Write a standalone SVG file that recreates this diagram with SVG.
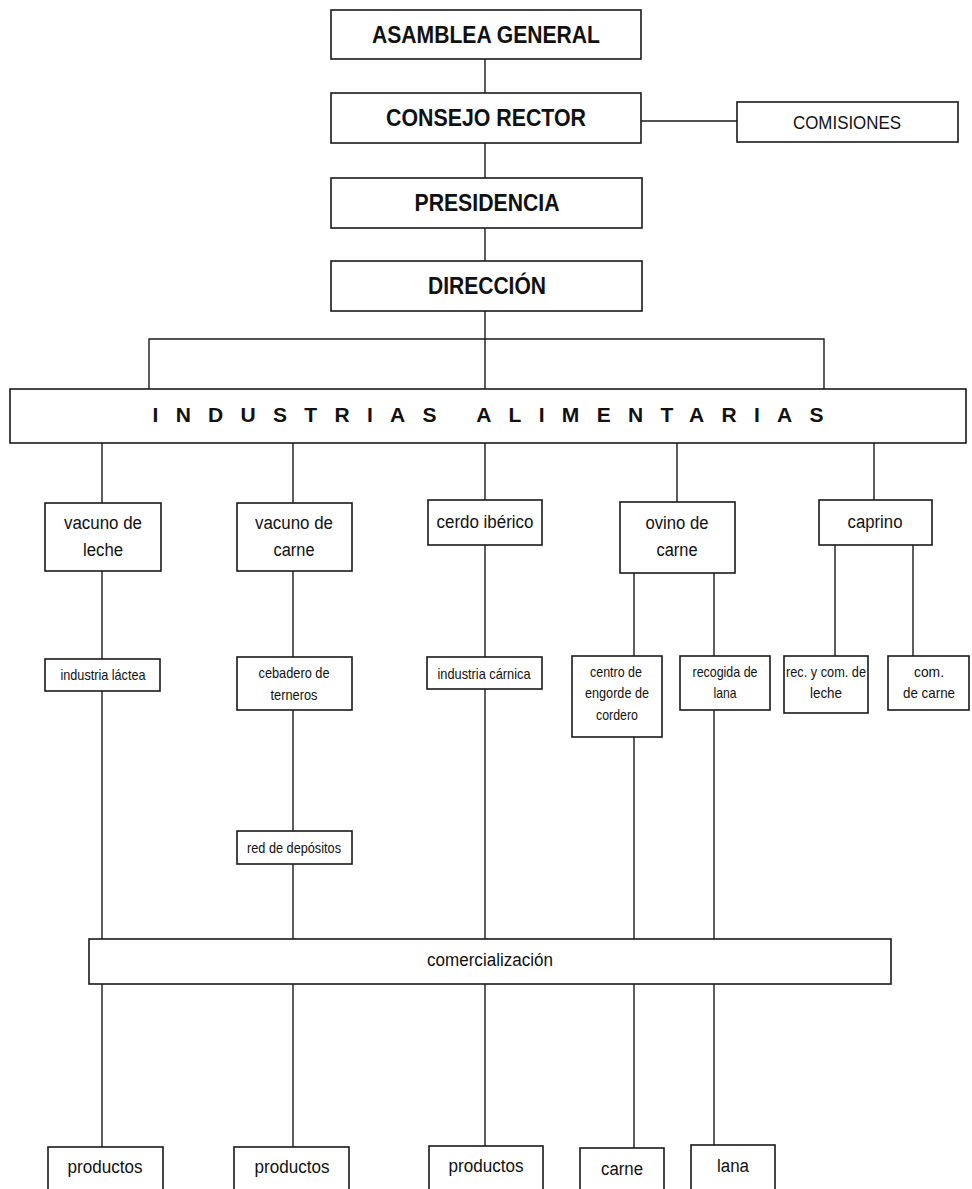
<svg xmlns="http://www.w3.org/2000/svg" width="972" height="1189" viewBox="0 0 972 1189">
<style>
.box{fill:#fff;stroke:#1a1a1a;stroke-width:1.6}
.ln{fill:none;stroke:#1a1a1a;stroke-width:1.4}
text{font-family:"Liberation Sans",Arial,sans-serif;fill:#111;text-anchor:middle}
.h{font-weight:bold;font-size:23px}
.m{font-size:18px}
.s{font-size:15px}
</style>
<rect width="972" height="1189" fill="#fff"/>
<g id="connectors">
<path class="ln" d="M485 59V93M485 143V178M485 228V261M485 311V389M641 121H737"/>
<path class="ln" d="M149 389V339H824V389"/>
<path class="ln" d="M102 443V503M293 443V503M677 443V502M874 443V500M485 443V500"/>
<path class="ln" d="M102 571V659M102 691V939M102 984V1147"/>
<path class="ln" d="M293 571V657M293 710V831M293 864V939M293 984V1147"/>
<path class="ln" d="M485 545V657M485 689V939M485 984V1146"/>
<path class="ln" d="M634 573V656M634 737V939M634 984V1148"/>
<path class="ln" d="M714 573V656M714 710V939M714 984V1145"/>
<path class="ln" d="M835 545V656M913 545V656"/>
</g>
<g id="asamblea"><rect class="box" x="331" y="10" width="310" height="49"/><text class="h" x="486" y="43" textLength="228" lengthAdjust="spacingAndGlyphs">ASAMBLEA GENERAL</text></g>
<g id="consejo"><rect class="box" x="331" y="93" width="310" height="50"/><text class="h" x="486" y="126" textLength="200" lengthAdjust="spacingAndGlyphs">CONSEJO RECTOR</text></g>
<g id="comisiones"><rect class="box" x="737" y="102" width="221" height="40"/><text class="m" x="847" y="129" textLength="108" lengthAdjust="spacingAndGlyphs">COMISIONES</text></g>
<g id="presidencia"><rect class="box" x="331" y="178" width="311" height="50"/><text class="h" x="487" y="211" textLength="145" lengthAdjust="spacingAndGlyphs">PRESIDENCIA</text></g>
<g id="direccion"><rect class="box" x="331" y="261" width="311" height="50"/><text class="h" x="487" y="294" textLength="118" lengthAdjust="spacingAndGlyphs">DIRECCIÓN</text></g>
<g id="industrias"><rect class="box" x="10" y="389" width="956" height="54"/><text class="h" x="488" y="422" style="font-size:21px" textLength="671" lengthAdjust="spacing">INDUSTRIAS ALIMENTARIAS</text></g>
<g id="vacuno-leche"><rect class="box" x="45" y="503" width="116" height="68"/><text class="m" x="103" y="529" textLength="78" lengthAdjust="spacingAndGlyphs">vacuno de</text><text class="m" x="103" y="556" textLength="40" lengthAdjust="spacingAndGlyphs">leche</text></g>
<g id="vacuno-carne"><rect class="box" x="237" y="503" width="115" height="68"/><text class="m" x="294" y="529" textLength="78" lengthAdjust="spacingAndGlyphs">vacuno de</text><text class="m" x="294" y="556" textLength="41" lengthAdjust="spacingAndGlyphs">carne</text></g>
<g id="cerdo"><rect class="box" x="428" y="500" width="114" height="45"/><text class="m" x="485" y="528" textLength="97" lengthAdjust="spacingAndGlyphs">cerdo ibérico</text></g>
<g id="ovino"><rect class="box" x="620" y="502" width="115" height="71"/><text class="m" x="677" y="529" textLength="63" lengthAdjust="spacingAndGlyphs">ovino de</text><text class="m" x="677" y="556" textLength="41" lengthAdjust="spacingAndGlyphs">carne</text></g>
<g id="caprino"><rect class="box" x="819" y="500" width="113" height="45"/><text class="m" x="875" y="528" textLength="55" lengthAdjust="spacingAndGlyphs">caprino</text></g>
<g id="industria-lactea"><rect class="box" x="45" y="659" width="115" height="32"/><text class="s" x="103" y="680" textLength="85" lengthAdjust="spacingAndGlyphs">industria láctea</text></g>
<g id="cebadero"><rect class="box" x="237" y="657" width="115" height="53"/><text class="s" x="294" y="678" textLength="71" lengthAdjust="spacingAndGlyphs">cebadero de</text><text class="s" x="294" y="700" textLength="47" lengthAdjust="spacingAndGlyphs">terneros</text></g>
<g id="red-depositos"><rect class="box" x="237" y="831" width="115" height="33"/><text class="s" x="294" y="853" textLength="94" lengthAdjust="spacingAndGlyphs">red de depósitos</text></g>
<g id="industria-carnica"><rect class="box" x="427" y="657" width="115" height="32"/><text class="s" x="484" y="679" textLength="93" lengthAdjust="spacingAndGlyphs">industria cárnica</text></g>
<g id="centro-engorde"><rect class="box" x="572" y="656" width="90" height="81"/><text class="s" x="616" y="677" textLength="52" lengthAdjust="spacingAndGlyphs">centro de</text><text class="s" x="617" y="698" textLength="64" lengthAdjust="spacingAndGlyphs">engorde de</text><text class="s" x="617" y="720" textLength="42" lengthAdjust="spacingAndGlyphs">cordero</text></g>
<g id="recogida-lana"><rect class="box" x="680" y="656" width="90" height="54"/><text class="s" x="725" y="677" textLength="65" lengthAdjust="spacingAndGlyphs">recogida de</text><text class="s" x="725" y="698" textLength="23" lengthAdjust="spacingAndGlyphs">lana</text></g>
<g id="rec-com-leche"><rect class="box" x="784" y="656" width="84" height="57"/><text class="s" x="826" y="677" textLength="80" lengthAdjust="spacingAndGlyphs">rec. y com. de</text><text class="s" x="826" y="698" textLength="32" lengthAdjust="spacingAndGlyphs">leche</text></g>
<g id="com-carne"><rect class="box" x="888" y="656" width="81" height="54"/><text class="s" x="929" y="677" textLength="30" lengthAdjust="spacingAndGlyphs">com.</text><text class="s" x="929" y="698" textLength="52" lengthAdjust="spacingAndGlyphs">de carne</text></g>
<g id="comercializacion"><rect class="box" x="89" y="939" width="802" height="45"/><text class="m" x="490" y="966" textLength="126" lengthAdjust="spacingAndGlyphs">comercialización</text></g>
<g id="productos-1"><rect class="box" x="48" y="1147" width="115" height="60"/><text class="m" x="105" y="1173" textLength="75" lengthAdjust="spacingAndGlyphs">productos</text></g>
<g id="productos-2"><rect class="box" x="234" y="1147" width="115" height="60"/><text class="m" x="292" y="1173" textLength="75" lengthAdjust="spacingAndGlyphs">productos</text></g>
<g id="productos-3"><rect class="box" x="429" y="1146" width="114" height="60"/><text class="m" x="486" y="1172" textLength="75" lengthAdjust="spacingAndGlyphs">productos</text></g>
<g id="carne"><rect class="box" x="580" y="1148" width="84" height="60"/><text class="m" x="622" y="1175" textLength="42" lengthAdjust="spacingAndGlyphs">carne</text></g>
<g id="lana"><rect class="box" x="691" y="1145" width="84" height="60"/><text class="m" x="733" y="1172" textLength="32" lengthAdjust="spacingAndGlyphs">lana</text></g>
</svg>
